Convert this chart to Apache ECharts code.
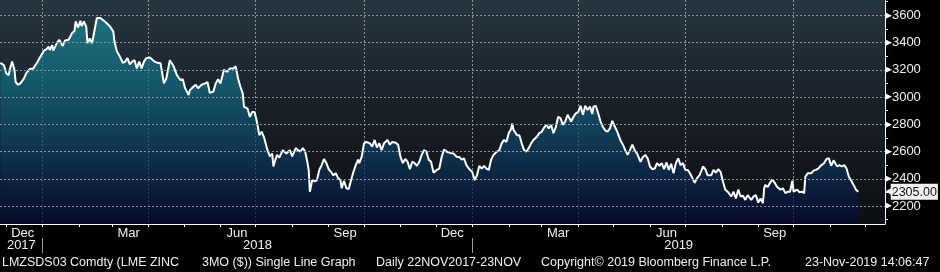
<!DOCTYPE html>
<html>
<head>
<meta charset="utf-8">
<script src="https://cdn.jsdelivr.net/npm/echarts@6/dist/echarts.min.js"></script>
<style>
html,body{margin:0;padding:0;background:#000;}
#chart{width:940px;height:272px;}
</style>
</head>
<body>
<div id="chart"></div>
<script>
const dayOffsets = [-36,-33,-31,-29,-28,-26,-24,-23,-21,-19,-16,-14,-11,-8,-5,-2,1,3,5,6,8,9,12,14,17,19,22,25,27,28,30,32,33,35,37,38,40,42,44,46,49,52,54,57,60,61,63,66,68,70,72,74,76,78,80,82,84,86,88,91,95,98,100,103,105,108,111,112,114,117,119,121,124,125,128,130,132,135,138,140,142,145,147,149,151,154,157,159,162,164,166,168,170,171,174,176,178,180,182,184,186,188,191,193,195,196,199,201,204,207,210,212,215,217,219,221,223,225,226,227,229,231,233,235,237,239,241,243,245,247,249,251,253,254,256,258,260,262,264,266,268,269,271,273,275,278,280,282,284,286,288,290,293,295,297,300,302,304,306,308,310,312,314,316,318,320,322,324,326,328,330,332,335,337,339,341,343,346,349,352,354,356,358,360,362,365,367,369,371,373,375,377,379,381,383,386,388,390,392,394,396,398,399,400,403,405,407,409,411,413,415,417,420,422,424,426,428,430,432,434,436,438,440,442,444,446,449,451,453,455,457,459,461,463,465,467,468,470,472,474,476,478,480,482,484,486,488,491,493,495,497,499,501,503,505,508,510,512,514,516,518,520,522,524,526,528,530,532,534,536,538,540,542,544,546,548,550,552,554,556,558,560,561,563,565,568,570,572,574,576,578,580,582,585,587,589,591,593,595,597,599,602,604,606,608,610,612,613,614,616,618,620,622,624,627,629,631,633,635,637,638,641,643,645,647,648,650,653,655,657,659,661,664,666,668,670,672,673,675,677,679,681,683,685,687,689,691,693];
// LME Zinc 3MO price, USD/t
const prices = [3250,3235,3175,3160,3200,3260,3200,3110,3090,3100,3135,3175,3205,3210,3250,3295,3340,3350,3370,3345,3380,3340,3395,3420,3375,3415,3420,3470,3485,3555,3510,3560,3520,3555,3515,3395,3430,3395,3490,3580,3580,3560,3545,3520,3480,3405,3335,3290,3250,3260,3285,3240,3260,3270,3210,3260,3210,3260,3285,3290,3260,3250,3250,3100,3135,3270,3230,3240,3160,3125,3130,3065,3015,3050,3075,3090,3065,3090,3100,3110,3030,3040,3100,3130,3100,3200,3185,3210,3210,3225,3135,3075,3025,2930,2915,2855,2890,2890,2820,2720,2745,2705,2610,2565,2585,2490,2575,2555,2610,2585,2610,2565,2625,2610,2600,2625,2600,2515,2465,2305,2390,2380,2390,2465,2500,2545,2515,2470,2450,2425,2440,2405,2390,2330,2385,2330,2325,2390,2450,2500,2540,2515,2560,2660,2670,2660,2635,2685,2630,2660,2610,2660,2685,2650,2670,2665,2650,2560,2515,2545,2525,2470,2525,2515,2495,2525,2575,2610,2600,2540,2525,2445,2465,2475,2560,2615,2600,2590,2585,2560,2560,2540,2550,2500,2475,2450,2390,2425,2495,2475,2495,2475,2465,2540,2575,2600,2610,2660,2685,2670,2735,2765,2805,2760,2720,2720,2660,2610,2600,2625,2660,2685,2710,2735,2745,2775,2795,2770,2795,2735,2780,2855,2845,2795,2820,2870,2820,2855,2880,2890,2935,2870,2935,2905,2930,2875,2930,2935,2880,2820,2780,2755,2745,2770,2825,2785,2750,2680,2650,2610,2575,2610,2650,2610,2585,2525,2560,2575,2550,2490,2470,2475,2515,2495,2515,2470,2520,2465,2510,2440,2515,2550,2500,2515,2465,2465,2440,2405,2370,2405,2425,2465,2490,2470,2425,2425,2465,2445,2470,2450,2380,2320,2305,2270,2305,2255,2320,2270,2275,2245,2280,2245,2270,2280,2225,2255,2220,2330,2355,2340,2370,2395,2370,2340,2320,2330,2295,2305,2305,2385,2305,2320,2300,2305,2295,2415,2440,2440,2460,2465,2475,2495,2515,2545,2550,2495,2535,2545,2490,2500,2490,2500,2475,2415,2385,2355,2320,2305];
const lastValue = 2305;
const yLabelValues = [2200,2400,2600,2800,3000,3200,3400,3600];
const yMinorValues = [2100,2200,2300,2400,2500,2600,2700,2800,2900,3000,3100,3200,3300,3400,3500,3600,3700];
const monthLabels = ['Dec','Mar','Jun','Sep','Dec','Mar','Jun','Sep'];
const monthLabelMonths = [[2017,11],[2018,2],[2018,5],[2018,8],[2018,11],[2019,2],[2019,5],[2019,8]];
const yearLabels = ['2017','2018','2019'];
const footerTexts = ['LMZSDS03 Comdty (LME ZINC','3MO ($)) Single Line Graph','Daily 22NOV2017-23NOV','Copyright\u00A9 2019 Bloomberg Finance L.P.','23-Nov-2019 14:06:47'];

const DAY = 86400000;
const BASE = Date.UTC(2018, 0, 1);
const toDay = (y, m, d) => (Date.UTC(y, m, d) - BASE) / DAY;
const xMin = -36.3;
const xMax = 715.7;
const seriesData = dayOffsets.map((d, i) => [d, prices[i]]);

const monthStarts = [];
const quarterStarts = [];
const yearStarts = [];
for (let y = 2017; y <= 2019; y++) for (let m = 0; m < 12; m++) {
  const t = toDay(y, m, 1);
  if (t > xMin && t < xMax) {
    monthStarts.push(t);
    if (m % 3 === 0) quarterStarts.push(t);
    if (m === 0) yearStarts.push(t);
  }
}
const monthLabelValues = monthLabelMonths.map(([y, m]) => toDay(y, m, 15));
const yearBounds = [xMin].concat(yearStarts, [xMax]);
const yearLabelValues = yearLabels.map((_, i) => (yearBounds[i] + yearBounds[i + 1]) / 2);

const FONT = '"Liberation Sans", Arial, sans-serif';
const TXT = '#eef0f2';
const GRID_LINE = {show: true, lineStyle: {color: '#8d9399', width: 1, type: [2, 2]}};

const chart = echarts.init(document.getElementById('chart'), null, {renderer: 'canvas'});
chart.setOption({
  backgroundColor: '#000',
  animation: false,
  grid: {
    left: 0, right: 55, top: 0, bottom: 48, show: true, borderWidth: 0,
    containLabel: false, outerBoundsMode: 'none',
    backgroundColor: new echarts.graphic.LinearGradient(0, 0, 0, 1, [
      {offset: 0, color: '#263641'},
      {offset: 0.5, color: '#181f26'},
      {offset: 1, color: '#0c0f13'}
    ])
  },
  xAxis: [
    {
      type: 'value', min: xMin, max: xMax, position: 'bottom',
      axisLine: {show: true, onZero: false, lineStyle: {color: '#ffffff', width: 1}},
      axisTick: {show: true, customValues: monthStarts, length: 3, lineStyle: {color: '#ffffff'}},
      axisLabel: {show: false},
      splitLine: {show: false}
    },
    {
      type: 'value', min: xMin, max: xMax, position: 'bottom',
      axisLine: {show: false, onZero: false},
      axisTick: {show: true, length: 0, customValues: quarterStarts, lineStyle: {color: 'rgba(0,0,0,0)'}},
      splitLine: GRID_LINE,
      axisLabel: {
        show: true, customValues: monthLabelValues, margin: 3,
        color: TXT, fontFamily: FONT, fontSize: 13,
        formatter: v => monthLabels[monthLabelValues.indexOf(v)] || ''
      }
    },
    {
      type: 'value', min: xMin, max: xMax, position: 'bottom', offset: 14,
      axisLine: {show: false, onZero: false},
      axisTick: {show: true, customValues: yearStarts, length: 15, lineStyle: {color: '#9a9a9a'}},
      splitLine: {show: false},
      axisLabel: {
        show: true, customValues: yearLabelValues, margin: 1,
        color: TXT, fontFamily: FONT, fontSize: 13,
        formatter: v => yearLabels[yearLabelValues.indexOf(v)] || ''
      }
    }
  ],
  yAxis: [
    {
      type: 'value', position: 'right', min: 2068, max: 3712,
      axisLine: {show: true, onZero: false, lineStyle: {color: '#ffffff', width: 1}},
      axisTick: {show: true, customValues: yMinorValues, length: 3, lineStyle: {color: '#ffffff'}},
      splitLine: {show: false},
      axisLabel: {
        show: true, customValues: yLabelValues, margin: 0,
        formatter: v => '{a|\u25B6}{b|' + v + '}',
        rich: {
          a: {color: '#ffffff', fontSize: 9, fontFamily: 'DejaVu Sans'},
          b: {color: TXT, fontSize: 13, fontFamily: FONT}
        }
      }
    },
    {
      type: 'value', position: 'right', min: 2068, max: 3712, z: 6,
      axisLine: {show: false, onZero: false},
      axisTick: {show: true, length: 0, customValues: yLabelValues, lineStyle: {color: 'rgba(0,0,0,0)'}},
      splitLine: GRID_LINE,
      axisLabel: {
        show: true, customValues: [lastValue], margin: 0,
        formatter: v => '{a|\u25C0}{b|' + v.toFixed(2) + '}',
        rich: {
          a: {color: '#f2f2f2', fontSize: 10, fontFamily: 'DejaVu Sans', padding: [0, -2, 0, 0]},
          b: {color: '#111111', backgroundColor: '#f2f2f2', fontSize: 12.5, fontFamily: FONT, padding: [2, 1, 1, 1]}
        }
      }
    }
  ],
  series: [{
    type: 'line',
    xAxisIndex: 0, yAxisIndex: 0,
    data: seriesData,
    showSymbol: false, symbol: 'none',
    lineStyle: {color: '#ffffff', width: 2},
    areaStyle: {
      origin: 'start',
      color: new echarts.graphic.LinearGradient(0, 0, 0, 1, [
        {offset: 0, color: '#1a8b99'},
        {offset: 0.35, color: '#106a84'},
        {offset: 0.65, color: '#0b3d62'},
        {offset: 1, color: '#040734'}
      ])
    },
    z: 3
  }],
  graphic: footerTexts.map((t, i) => ({
    type: 'text',
    x: [2, 202, 376, 541, 805][i], y: 263,
    style: {text: t, fill: TXT, font: '12.5px ' + FONT, verticalAlign: 'middle'}
  }))
});
</script>
</body>
</html>
